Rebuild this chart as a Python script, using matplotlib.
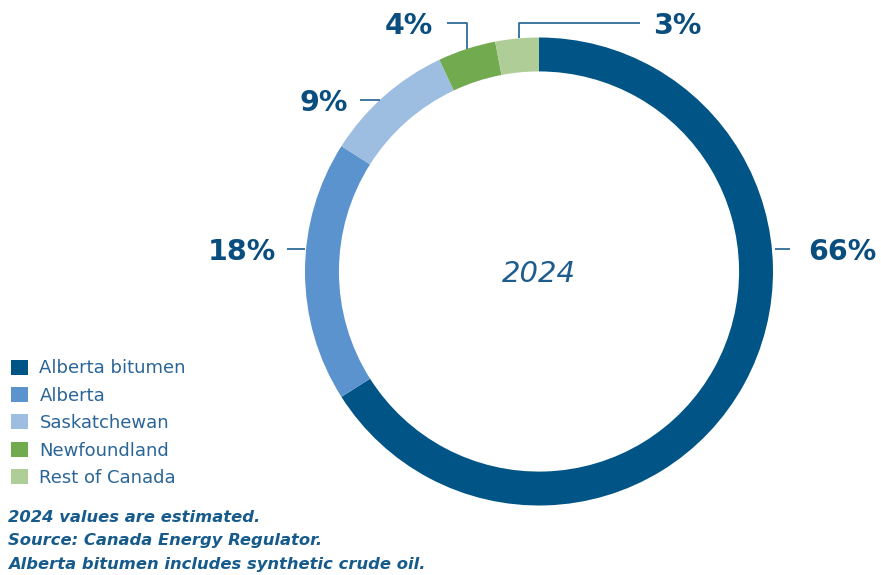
import matplotlib
matplotlib.use("Agg")
import matplotlib.pyplot as plt
from matplotlib.patches import Patch

categories = ["Alberta bitumen", "Alberta", "Saskatchewan", "Newfoundland", "Rest of Canada"]
values = [66, 18, 9, 4, 3]
labels = ["66%", "18%", "9%", "4%", "3%"]
colors = ["#005486", "#5B93CF", "#9DBEE1", "#72AB4F", "#AECD97"]
center_text = "2024"
notes = ["2024 values are estimated.", "Source: Canada Energy Regulator.",
         "Alberta bitumen includes synthetic crude oil."]

W, H = 881, 575
fig = plt.figure(figsize=(W / 100, H / 100), dpi=100)
FONT = "DejaVu Sans"

# donut axes
cx, cy, r = 539, 271.5, 234
ax = fig.add_axes([(cx - r) / W, (H - cy - r) / H, 2 * r / W, 2 * r / H])
ax.axis("off")
ax.pie(values, colors=colors, startangle=90, counterclock=False, radius=1,
       wedgeprops=dict(width=0.145, edgecolor="none"))
ax.set_aspect("equal")
ax.set_xlim(-1, 1)
ax.set_ylim(-1, 1)

label_color = "#0A4E80"
line_color = "#1F5F8F"
lfont = dict(fontsize=20.5, fontweight="bold", color=label_color, family=FONT)

# leader line paths and label anchors (layout, in donut coordinates)
leaders = [
    ([1.009, 1.073], [0.096, 0.096], (1.15, 0.096), "left"),
    ([-1.077, -1.0], [0.096, 0.096], (-1.124, 0.096), "right"),
    ([-0.765, -0.68], [0.733, 0.733], (-0.816, 0.733), "right"),
    ([-0.393, -0.308, -0.308], [1.062, 1.062, 0.951], (-0.453, 1.062), "right"),
    ([0.432, -0.085, -0.085], [1.062, 1.062, 0.996], (0.487, 1.062), "left"),
]
for (xs, ys, (tx, ty), ha), lab in zip(leaders, labels):
    ax.plot(xs, ys, color=line_color, lw=1.2, clip_on=False, solid_capstyle="butt")
    ax.text(tx, ty, lab, ha=ha, va="center_baseline", clip_on=False, **lfont)

ax.text(0, -0.01, center_text, ha="center", va="center", fontsize=21,
        style="italic", color="#1F5C8E", family=FONT)

# legend
handles = [Patch(facecolor=c, edgecolor="none") for c in colors]
leg = fig.legend(handles, categories, loc="upper left",
                 bbox_to_anchor=(6 / W, 1 - 354 / H), frameon=False,
                 fontsize=13, handlelength=0.9, handleheight=0.9,
                 handletextpad=0.65, labelspacing=0.52, borderaxespad=0,
                 borderpad=0.3)
for t in leg.get_texts():
    t.set_color("#2A6597")
    t.set_family(FONT)

for i, n in enumerate(notes):
    fig.text(8 / W, 1 - (517 + 23.5 * i) / H, n, ha="left", va="center",
             fontsize=11.8, fontweight="bold", style="italic",
             color="#175B8D", family=FONT)

fig.savefig("out.png", dpi=100)
